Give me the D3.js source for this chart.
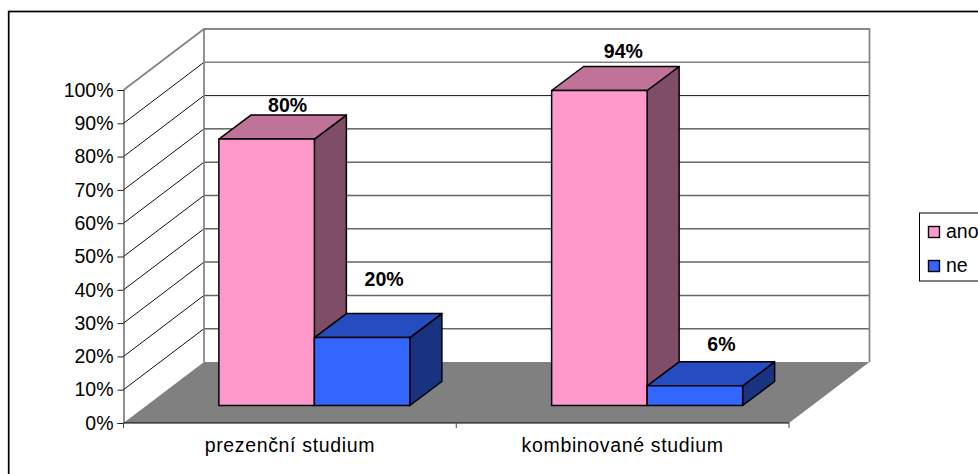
<!DOCTYPE html>
<html><head><meta charset="utf-8">
<script src="https://cdn.jsdelivr.net/npm/d3@7/dist/d3.min.js"></script>
<style>html,body{margin:0;padding:0;background:#fff;overflow:hidden}svg{display:block}text{font-family:"Liberation Sans",Arial,sans-serif;fill:#000}</style>
</head><body><svg id="c" width="978" height="474"></svg>
<script>
const categories = ["prezenční studium", "kombinované studium"];
const seriesNames = ["ano", "ne"];
const ano = [80, 94.6];
const ne = [20.4, 5.9];
const anoLabels = ["80%", "94%"];
const neLabels = ["20%", "6%"];
const yTicks = [0,10,20,30,40,50,60,70,80,90,100];
const colors = {ano:{front:"#ff99cc",top:"#bf7399",side:"#804d66"}, ne:{front:"#3366ff",top:"#264dbf",side:"#1a3380"}};
const seriesValues = {ano, ne};
const seriesLabels = {ano: anoLabels, ne: neLabels};
// label placement relative to the bar's front-face centre and back-top edge
const labelNudge = {ano:[[21,-3.5],[24,-8.5]], ne:[[22,-27.5],[26.5,-11]]};

const svg = d3.select("#c");
const y = d3.scaleLinear().domain([0,100]).range([423,90]);
const x = d3.scaleBand().domain(categories).range([123.5,789]);
const groupW = 191;
const x1 = d3.scaleBand().domain(seriesNames).range([0,groupW]);
const wall = {dx:80.5, dy:-61};      // full floor depth
const barPlane = {dx:24.5, dy:-17.5};  // front face of bars
const barDepth = {dx:32, dy:-24};    // bar depth

// chart frame
svg.append("rect").attr("x",8.7).attr("y",11.5).attr("width",1100).attr("height",600)
  .attr("fill","#fff").attr("stroke","#000").attr("stroke-width",1.7);

const x0=x.range()[0], x9=x.range()[1], y0=y(0), y100=y(100);
// floor
svg.append("path").attr("fill","#808080")
 .attr("d",d3.line()([[x0,y0],[x0+wall.dx,y0+wall.dy],[x9+wall.dx,y0+wall.dy],[x9,y0]])+"Z");

// gridlines
yTicks.forEach(t=>{
  const gy=y(t);
  if(t>0){
    svg.append("line").attr("x1",x0).attr("y1",gy).attr("x2",x0+wall.dx).attr("y2",gy+wall.dy)
      .attr("stroke",t===100?"#808080":"#111").attr("stroke-width",t===100?1.6:1);
    const dark = t===80||t===70;
    svg.append("line").attr("x1",x0+wall.dx).attr("x2",x9+wall.dx).attr("y1",gy+wall.dy).attr("y2",gy+wall.dy)
      .attr("stroke",dark?"#111":(t>=90?"#808080":"#666")).attr("stroke-width",dark?1:1.5);
  }
});
// wall edges
svg.append("path").attr("fill","none").attr("stroke","#808080").attr("stroke-width",1.7)
 .attr("d",d3.line()([[x0+wall.dx,y0+wall.dy],[x0+wall.dx,y100+wall.dy],[x9+wall.dx,y100+wall.dy],[x9+wall.dx,y0+wall.dy]]));

// axes
const yAxis = d3.axisLeft(y).tickValues(yTicks).tickFormat(d=>d+"%").tickSize(6).tickPadding(4);
const gy = svg.append("g").attr("transform",`translate(${x0},0)`).call(yAxis);
gy.selectAll("text").attr("font-size",19.5).style("font-family",'"Liberation Sans"').attr("fill","#000");
gy.selectAll("line,path").attr("stroke","#222").attr("stroke-width",1);

svg.append("line").attr("x1",x0).attr("x2",x9).attr("y1",y0).attr("y2",y0).attr("stroke","#000").attr("stroke-width",1.2);
[x0,x0+x.bandwidth(),x9].forEach(tx=>svg.append("line").attr("x1",tx).attr("x2",tx).attr("y1",y0).attr("y2",y0+5).attr("stroke","#444"));
categories.forEach(c=>svg.append("text").attr("x",x(c)+x.bandwidth()/2).attr("y",452).attr("text-anchor","middle").attr("font-size",19.5).attr("letter-spacing",0.65).text(c));

// bars
categories.forEach((c,i)=>{
  const gx = x(c)+x.bandwidth()/2+barPlane.dx-groupW/2;
  seriesNames.forEach(s=>{
    const v=seriesValues[s][i];
    const l=gx+x1(s), r=l+x1.bandwidth();
    const b=y(0)+barPlane.dy, t=y(v)+barPlane.dy;
    const d=barDepth, col=colors[s];
    const g=svg.append("g").attr("stroke","#000").attr("stroke-width",1.5).attr("stroke-linejoin","round");
    g.append("path").attr("fill",col.side).attr("d",d3.line()([[r,t],[r+d.dx,t+d.dy],[r+d.dx,b+d.dy],[r,b]])+"Z");
    g.append("path").attr("fill",col.top).attr("d",d3.line()([[l,t],[l+d.dx,t+d.dy],[r+d.dx,t+d.dy],[r,t]])+"Z");
    g.append("rect").attr("x",l).attr("y",t).attr("width",r-l).attr("height",b-t).attr("fill",col.front);
  });
});
// data labels
categories.forEach((c,i)=>{
  const gx = x(c)+x.bandwidth()/2+barPlane.dx-groupW/2;
  seriesNames.forEach(s=>{
    const v=seriesValues[s][i], n=labelNudge[s][i];
    svg.append("text").attr("x",gx+x1(s)+x1.bandwidth()/2+n[0]).attr("y",y(v)+barPlane.dy+barDepth.dy+n[1])
      .attr("text-anchor","middle").attr("font-size",19.5).attr("font-weight","bold").text(seriesLabels[s][i]);
  });
});

// legend
const lg=svg.append("g");
lg.append("rect").attr("x",919.5).attr("y",213).attr("width",120).attr("height",68).attr("fill","#fff").attr("stroke","#000").attr("stroke-width",1);
seriesNames.forEach((s,i)=>{
  const ly=232+i*34;
  lg.append("rect").attr("x",928.5).attr("y",ly-5.5).attr("width",11).attr("height",11).attr("fill",colors[s].front).attr("stroke","#000").attr("stroke-width",1.4);
  lg.append("text").attr("x",946).attr("y",ly+5.5).attr("font-size",19.5).text(s);
});
</script></body></html>
